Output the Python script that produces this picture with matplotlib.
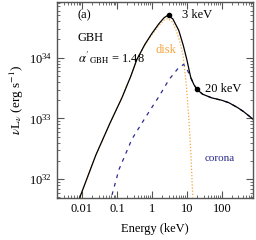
import numpy as np
import matplotlib
matplotlib.use("Agg")
import matplotlib.pyplot as plt

plt.rcParams['font.family'] = ['Liberation Serif', 'DejaVu Serif']
plt.rcParams['mathtext.fontset'] = 'stix'

# valores (log10 E en keV, log10 nuLnu en erg/s)
total_logE = [-2.06, -1.6, -1.2, -0.857, -0.6, -0.43, -0.2, 0.0, 0.2, 0.35, 0.457,
              0.6, 0.77, 0.9, 1.0, 1.11, 1.2, 1.29, 1.45, 1.71, 2.0, 2.2, 2.45, 2.63, 2.91]
total_logL = [31.70, 32.40, 32.92, 33.34, 33.70, 33.97, 34.22, 34.40, 34.56, 34.66, 34.70,
              34.64, 34.45, 34.20, 33.97, 33.68, 33.56, 33.48, 33.40, 33.34, 33.30, 33.26, 33.18, 33.11, 32.98]

disk_logE = [-2.06, -1.6, -1.2, -0.857, -0.6, -0.43, -0.2, 0.0, 0.2, 0.35, 0.457,
             0.6, 0.71, 0.8, 0.89, 0.97, 1.02, 1.06, 1.11, 1.14, 1.17]
disk_logL = [31.70, 32.40, 32.92, 33.34, 33.70, 33.97, 34.21, 34.38, 34.53, 34.62, 34.65,
             34.58, 34.43, 34.26, 34.05, 33.64, 33.30, 32.98, 32.49, 32.10, 31.70]

corona_logE = [-1.14, -0.94, -0.57, -0.17, 0.2, 0.49, 0.77, 0.91, 1.0, 1.11, 1.2, 1.29,
               1.45, 1.71, 2.0, 2.2, 2.45, 2.63, 2.91]
corona_logL = [31.74, 32.16, 32.66, 33.03, 33.36, 33.64, 33.84, 33.89, 33.82, 33.67, 33.56, 33.48,
               33.40, 33.34, 33.30, 33.26, 33.18, 33.11, 32.98]

puntos_E = [3.0, 19.5]
puntos_L = [10**34.70, 10**33.48]

gris = '#555555'
naranja = '#f7a540'
azul = '#2b2b8c'

fig = plt.figure(figsize=(2.56, 2.40), dpi=100)
ax = fig.add_axes([0.223, 0.175, 0.765, 0.817])

ax.plot(10**np.array(disk_logE), 10**np.array(disk_logL), color=naranja, lw=0.9, ls=(0, (1, 1.5)))
ax.plot(10**np.array(corona_logE), 10**np.array(corona_logL), color=azul, lw=0.9, ls=(0, (3, 4)))
ax.plot(10**np.array(total_logE), 10**np.array(total_logL), color='black', lw=0.9)
ax.plot(puntos_E, puntos_L, 'o', color='black', ms=3)

ax.set_xscale('log')
ax.set_yscale('log')
ax.set_xlim(10**-2.71, 10**2.89)
ax.set_ylim(10**31.69, 10**34.92)
ax.set_xticks([0.01, 0.1, 1, 10, 100])
ax.set_xticklabels(['0.01', '0.1', '1', '10', '100'])
ax.set_yticks([1e32, 1e33, 1e34])

for s in ax.spines.values():
    s.set_color(gris)
    s.set_linewidth(1.0)
ax.tick_params(which='both', direction='in', top=True, right=True, colors=gris, labelcolor='black', labelsize=9)
ax.tick_params(which='major', length=5, width=0.8)
ax.tick_params(which='minor', length=2.5, width=0.6)

ax.set_xlabel('Energy (keV)', fontsize=9, labelpad=6)
ax.set_ylabel(r'$\nu$L$_\nu$ (erg s$^{-1}$)', fontsize=9.5, labelpad=2)

ax.text(0.105, 0.915, '(a)', transform=ax.transAxes, fontsize=9)
ax.text(0.105, 0.815, 'GBH', transform=ax.transAxes, fontsize=9, va='center')
ax.text(0.105, 0.715, r"$\alpha'_{\rm GBH}$ = 1.48", transform=ax.transAxes, fontsize=9, va='center')
ax.text(10**0.86, 10**34.70, '3 keV', fontsize=9, va='center')
ax.text(10**1.51, 10**33.49, '20 keV', fontsize=9, va='center')
ax.text(10**0.09, 10**34.13, 'disk', fontsize=9, color=naranja, va='center')
ax.text(10**1.51, 10**32.34, 'corona', fontsize=8, color=azul, va='center')

fig.savefig('out.png', dpi=100)
